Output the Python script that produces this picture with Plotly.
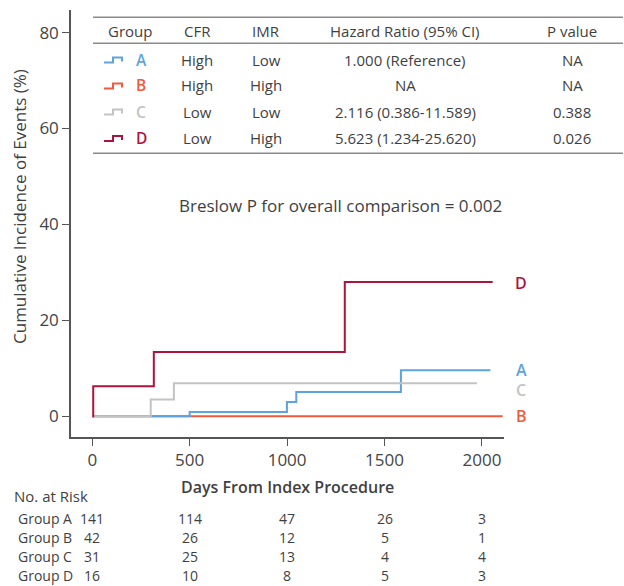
import plotly.graph_objects as go

# ---------------- data ----------------
groups = ["A", "B", "C", "D"]
days_A = [0, 500, 999, 1047, 1584, 2043]
inc_A = [0, 0.9, 3.0, 5.1, 9.6, 9.6]
days_B = [0, 2106]
inc_B = [0, 0]
days_C = [0, 300, 419, 1974]
inc_C = [0, 3.5, 6.9, 6.9]
days_D = [0, 5, 316, 1296, 2055]
inc_D = [0, 6.3, 13.4, 28.0, 28.0]

cfr = ["High", "High", "Low", "Low"]
imr = ["Low", "High", "Low", "High"]
hazard = ["1.000 (Reference)", "NA", "2.116 (0.386-11.589)", "5.623 (1.234-25.620)"]
pvals = ["NA", "NA", "0.388", "0.026"]
header = ["Group", "CFR", "IMR", "Hazard Ratio (95% CI)", "P value"]

risk_times = [0, 500, 1000, 1500, 2000]
risk_A = [141, 114, 47, 26, 3]
risk_B = [42, 26, 12, 5, 1]
risk_C = [31, 25, 13, 4, 4]
risk_D = [16, 10, 8, 5, 3]
x_ticks = [0, 500, 1000, 1500, 2000]
y_ticks = [0, 20, 40, 60, 80]
breslow = "Breslow P for overall comparison = 0.002"

colors = {"A": "#5DA4DD", "B": "#F15A3C", "C": "#C3C3C3", "D": "#B0123E"}
TXT = "#3f3f3f"
FONT = "Open Sans"

# ---------------- layout geometry ----------------
W, H = 624, 586
PL, PR, PT, PB = 71, 504, 10, 437
def xp(px):
    return (px - PL) / (PR - PL)
def yp(py):
    return (PB - py) / (PB - PT)

fig = go.Figure()
series = {"A": (days_A, inc_A), "B": (days_B, inc_B), "C": (days_C, inc_C), "D": (days_D, inc_D)}
for g in ["B", "A", "C", "D"]:
    x, y = series[g]
    fig.add_trace(go.Scatter(x=x, y=y, mode="lines", line=dict(shape="hv", color=colors[g], width=2),
                             showlegend=False, hoverinfo="skip"))

ann = []
shapes = []

# curve end labels
label_y = {"D": 282.7, "A": 370, "C": 389.5, "B": 416}
for g in groups:
    ann.append(dict(x=xp(521), y=yp(label_y[g]), xref="paper", yref="paper", text=g, showarrow=False,
                    xanchor="center", yanchor="middle", font=dict(family=FONT, size=16, color=colors[g], weight=600)))

# top table
line_col = "#8a8a8a"
for py in [17.3, 43.3, 153.3]:
    shapes.append(dict(type="line", xref="paper", yref="paper", x0=xp(93), x1=xp(623), y0=yp(py), y1=yp(py),
                       line=dict(color=line_col, width=1.6)))
col_x = [130, 197, 266, 405, 572]
for cx, h in zip(col_x, header):
    ann.append(dict(x=xp(cx), y=yp(30.5), xref="paper", yref="paper", text=h, showarrow=False,
                    xanchor="center", yanchor="middle", font=dict(family=FONT, size=15, color=TXT)))
row_y = [59.5, 85.5, 111.5, 138]
for i, g in enumerate(groups):
    ry = row_y[i]
    # legend icon
    path = "M {a},{b} L {c},{b} L {c},{d} L {e},{d} L {e},{f}".format(
        a=xp(104), b=yp(ry + 3), c=xp(113), d=yp(ry - 2), e=xp(122), f=yp(ry + 2))
    shapes.append(dict(type="path", xref="paper", yref="paper", path=path,
                       line=dict(color=colors[g], width=2)))
    ann.append(dict(x=xp(141), y=yp(ry), xref="paper", yref="paper", text=g, showarrow=False,
                    xanchor="center", yanchor="middle", font=dict(family=FONT, size=15.5, color=colors[g], weight=600)))
    for cx, val in zip(col_x[1:], [cfr[i], imr[i], hazard[i], pvals[i]]):
        ann.append(dict(x=xp(cx), y=yp(ry), xref="paper", yref="paper", text=val, showarrow=False,
                        xanchor="center", yanchor="middle", font=dict(family=FONT, size=15, color=TXT)))

# Breslow
ann.append(dict(x=xp(340), y=yp(205.5), xref="paper", yref="paper", text=breslow, showarrow=False,
                xanchor="center", yanchor="middle", font=dict(family=FONT, size=17, color=TXT)))

# axis titles
ann.append(dict(x=xp(287.5), y=yp(486.5), xref="paper", yref="paper", text="Days From Index Procedure",
                showarrow=False, xanchor="center", yanchor="middle",
                font=dict(family=FONT, size=16, color=TXT, weight=600)))
ann.append(dict(x=xp(20), y=yp(207), xref="paper", yref="paper", text="Cumulative Incidence of Events (%)",
                showarrow=False, xanchor="center", yanchor="middle", textangle=-90,
                font=dict(family=FONT, size=17, color=TXT, weight=500)))

# number at risk
ann.append(dict(x=xp(12), y=yp(496), xref="paper", yref="paper", text="No. at Risk", showarrow=False,
                xanchor="left", yanchor="middle", font=dict(family=FONT, size=15, color=TXT)))
risk_rows = [risk_A, risk_B, risk_C, risk_D]
risk_y = [518.5, 537.6, 556.7, 575.8]
for i, g in enumerate(groups):
    ann.append(dict(x=xp(15.5), y=yp(risk_y[i]), xref="paper", yref="paper", text="Group " + g, showarrow=False,
                    xanchor="left", yanchor="middle", font=dict(family=FONT, size=14, color=TXT)))
    for t, n in zip(risk_times, risk_rows[i]):
        ann.append(dict(x=t, y=yp(risk_y[i]), xref="x", yref="paper", text=str(n), showarrow=False,
                        xanchor="center", yanchor="middle", font=dict(family=FONT, size=14, color=TXT)))

fig.update_layout(
    width=W, height=H,
    margin=dict(l=PL, r=W - PR, t=PT, b=H - PB, pad=0),
    paper_bgcolor="white", plot_bgcolor="white",
    annotations=ann, shapes=shapes,
    font=dict(family=FONT, color=TXT),
)
fig.update_xaxes(range=[-109, 2113], tickvals=x_ticks, ticks="outside", ticklen=7, tickwidth=1.2,
                 tickcolor="#555", showline=True, linecolor="#555", linewidth=1.5, showgrid=False,
                 zeroline=False, tickfont=dict(family=FONT, size=17, color="#444"))
fig.update_yaxes(range=[-4.3, 84.7], tickvals=y_ticks, ticks="outside", ticklen=7, tickwidth=1.2,
                 tickcolor="#555", showline=True, linecolor="#555", linewidth=1.5, showgrid=False,
                 zeroline=False, tickfont=dict(family=FONT, size=17, color="#444"))

fig.write_html("out.html")
